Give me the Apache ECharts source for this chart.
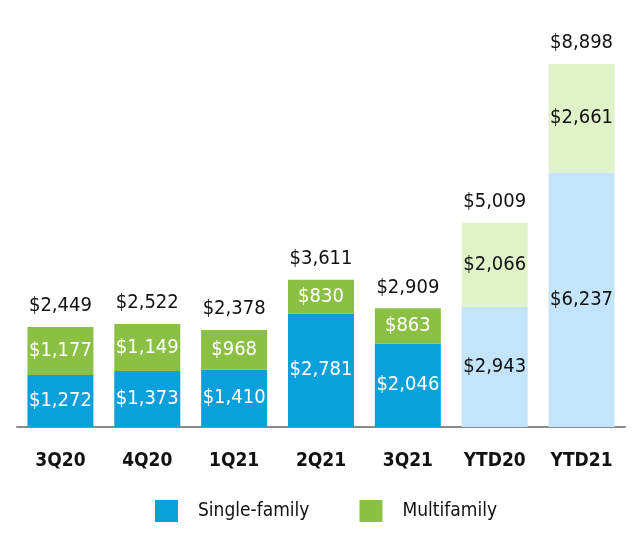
<!DOCTYPE html>
<html><head><meta charset="utf-8">
<script src="https://cdn.jsdelivr.net/npm/echarts@6/dist/echarts.min.js"></script>
<style>html,body{margin:0;padding:0;background:#fff}#c{width:640px;height:534px}</style>
</head><body><div id="c"></div>
<script>
const categories = ['3Q20','4Q20','1Q21','2Q21','3Q21','YTD20','YTD21'];
const singleFamily = [1272,1373,1410,2781,2046,2943,6237];
const multifamily = [1177,1149,968,830,863,2066,2661];
const totals = [2449,2522,2378,3611,2909,5009,8898];
const ytdFlags = [false,false,false,false,false,true,true];

const FONT = '"DejaVu Sans Condensed","Liberation Sans Narrow",sans-serif';
const BLUE = '#0aa0dc', GREEN = '#8cc045', LBLUE = '#c3e4fb', LGREEN = '#e0f3c8';
const fmt = v => '$' + v.toLocaleString('en-US');

function items(vals, dark, light) {
  return vals.map((v, i) => ({
    value: v,
    itemStyle: { color: ytdFlags[i] ? light : dark },
    label: { color: ytdFlags[i] ? '#111' : '#fff' }
  }));
}

const chart = echarts.init(document.getElementById('c'));
chart.setOption({
  animation: false,
  textStyle: { fontFamily: FONT },
  grid: { left: 17, right: 15, top: 19, bottom: 107 },
  legend: {
    data: ['Single-family', 'Multifamily'],
    bottom: 7, left: 150,
    itemWidth: 23, itemHeight: 22, itemGap: 50,
    icon: 'rect',
    textStyle: { fontFamily: FONT, fontSize: 19, color: '#111', padding: [0, 0, 0, 15] }
  },
  xAxis: {
    type: 'category', data: categories,
    axisLine: { lineStyle: { color: '#8a8a8a', width: 2 } },
    axisTick: { show: false },
    axisLabel: { interval: 0, fontFamily: FONT, fontSize: 19, fontWeight: 'bold', color: '#111', margin: 25 }
  },
  yAxis: { type: 'value', min: 0, max: 10000, show: false, splitLine: { show: false } },
  series: [
    {
      name: 'Single-family', type: 'bar', stack: 's', barCategoryGap: '24%',
      itemStyle: { color: BLUE },
      label: { show: true, position: 'inside', fontFamily: FONT, fontSize: 20, formatter: p => fmt(p.value) },
      data: items(singleFamily, BLUE, LBLUE)
    },
    {
      name: 'Multifamily', type: 'bar', stack: 's',
      itemStyle: { color: GREEN },
      label: { show: true, position: 'inside', fontFamily: FONT, fontSize: 20, formatter: p => fmt(p.value) },
      data: items(multifamily, GREEN, LGREEN)
    },
    {
      name: 'Total', type: 'bar', barGap: '-100%', z: 0,
      itemStyle: { color: 'rgba(0,0,0,0)' },
      label: { show: true, position: 'top', distance: 11, fontFamily: FONT, fontSize: 20, color: '#111', formatter: p => fmt(p.value) },
      data: totals
    }
  ]
});
</script></body></html>
